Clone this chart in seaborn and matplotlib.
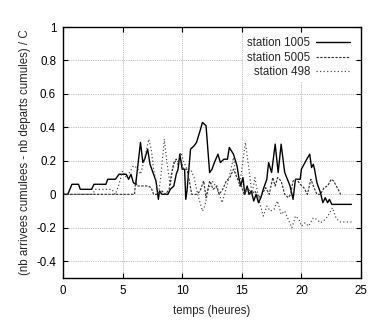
import matplotlib
matplotlib.use("Agg")
import matplotlib.pyplot as plt
import seaborn as sns
import pandas as pd

# ---- data ----
t_1005 = [0, 0.4, 0.75, 1.3, 1.45, 2.4, 2.6, 3.6, 3.75, 4.4,
          4.7, 5.3, 5.5, 5.7, 5.9, 6.1, 6.5, 6.7, 6.85, 7.1,
          7.3, 7.6, 7.8, 8.0, 8.1, 8.3, 8.8, 9.0, 9.3, 9.5,
          9.65, 9.8, 10.0, 10.2, 10.3, 10.4, 10.7, 11.0, 11.2, 11.5,
          11.7, 12.0, 12.3, 12.5, 12.7, 13.0, 13.2, 13.5, 13.8, 13.95,
          14.3, 14.6, 14.75, 14.9, 15.1, 15.25, 15.45, 15.6, 15.8, 16.0,
          16.2, 16.4, 16.6, 16.8, 17.1, 17.25, 17.5, 17.8, 18.05, 18.3,
          18.6, 19.05, 19.3, 19.5, 19.9, 20.0, 20.45, 20.7, 20.85, 21.0,
          21.1, 21.3, 21.6, 21.8, 22.0, 22.2, 22.35, 22.55, 24.2]
v_1005 = [0, 0, 0.06, 0.06, 0.03, 0.03, 0.06, 0.06, 0.09, 0.09,
          0.12, 0.12, 0.09, 0.12, 0.07, 0.06, 0.31, 0.19, 0.21, 0.27,
          0.18, 0.12, 0.08, -0.03, 0.02, 0.0, 0.0, 0.03, 0.05, 0.12,
          0.15, 0.24, 0.15, 0.15, -0.03, 0.02, 0.27, 0.29, 0.31, 0.38,
          0.43, 0.41, 0.13, 0.15, 0.19, 0.24, 0.19, 0.21, 0.21, 0.28,
          0.24, 0.17, 0.10, 0.05, 0.10, 0.0, 0.05, 0.0, 0.02, -0.04,
          0.0, -0.05, -0.02, 0.03, 0.09, 0.19, 0.13, 0.30, 0.13, 0.30,
          0.13, 0.05, -0.03, 0.09, 0.09, 0.15, 0.21, 0.24, 0.16, 0.18,
          0.15, 0.07, 0.01, -0.05, -0.02, -0.05, -0.03, -0.06, -0.06]

t_5005 = [0, 6.0, 6.1, 6.2, 6.5, 6.8, 7.1, 7.4, 7.6, 8.0,
          8.3, 8.6, 8.9, 9.1, 9.3, 9.5, 9.7, 9.9, 10.1, 10.4,
          10.6, 10.8, 11.2, 11.5, 11.8, 12.0, 12.3, 12.6, 12.9, 13.1,
          13.4, 13.7, 14.0, 14.3, 14.6, 14.9, 15.2, 15.5, 15.8, 16.1,
          16.4, 16.7, 17.0, 17.3, 17.6, 17.8, 18.0, 18.3, 18.6, 18.9,
          19.1, 19.3, 19.6, 19.9, 20.2, 20.5, 20.8, 21.0, 21.3, 21.6,
          21.9, 22.2, 22.5, 22.7, 23.0, 23.3]
v_5005 = [0, 0, 0.08, 0.05, 0.05, 0.05, 0.05, 0.04, 0.0, 0.0,
          0.02, 0.0, 0.03, 0.12, 0.19, 0.21, 0.19, 0.20, 0.15, 0.15,
          0.08, 0.0, 0.0, 0.02, 0.08, -0.02, 0.08, 0.03, 0.05, 0.0,
          0.03, 0.08, 0.10, 0.15, 0.10, 0.06, 0.0, 0.04, 0.0, 0.02,
          -0.02, 0.0, 0.04, 0.0, 0.10, 0.05, 0.10, 0.08, 0.0, -0.02,
          0.0, 0.08, 0.09, 0.06, 0.04, 0.0, 0.09, 0.05, 0.0, 0.0,
          0.04, 0.05, 0.09, 0.08, 0.04, 0.0]

t_498 = [0, 2.5, 2.7, 4.1, 4.4, 4.7, 5.0, 5.3, 5.5, 5.9,
         6.2, 6.5, 6.8, 7.2, 7.4, 7.6, 7.8, 8.0, 8.2, 8.5,
         8.7, 9.0, 9.2, 9.4, 9.6, 9.9, 10.1, 10.4, 10.7, 11.0,
         11.3, 11.7, 11.9, 12.2, 12.5, 12.8, 13.1, 13.35, 13.7, 14.0,
         14.3, 14.5, 14.8, 15.0, 15.3, 15.6, 15.85, 16.1, 16.3, 16.5,
         16.8, 17.1, 17.4, 17.7, 18.0, 18.3, 18.6, 18.9, 19.2, 19.5,
         19.8, 20.0, 20.3, 20.6, 21.0, 21.3, 21.6, 22.0, 22.3, 22.6,
         22.9, 23.2, 24.2]
v_498 = [0, 0, 0.03, 0.03, 0.0, 0.06, 0.14, 0.10, 0.12, 0.17,
         0.16, 0.12, 0.20, 0.33, 0.27, 0.15, 0.08, 0.0, 0.10, 0.33,
         0.20, 0.05, 0.15, 0.20, 0.18, 0.25, 0.20, 0.15, 0.15, 0.10,
         0.0, -0.10, -0.07, 0.03, 0.08, 0.05, 0.0, -0.05, 0.04, 0.12,
         0.22, 0.12, 0.05, 0.15, 0.31, 0.15, 0.0, 0.10, 0.02, -0.05,
         -0.13, -0.07, -0.10, -0.09, -0.04, -0.12, -0.10, -0.15, -0.20, -0.13,
         -0.15, -0.19, -0.17, -0.19, -0.14, -0.15, -0.17, -0.15, -0.12, -0.08,
         -0.14, -0.165, -0.165]

labels = ["station 1005", "station 5005", "station 498"]
x_ticks = [0, 5, 10, 15, 20, 25]
y_ticks = [-0.4, -0.2, 0, 0.2, 0.4, 0.6, 0.8, 1]
y_tick_labels = ["-0.4", "-0.2", "0", "0.2", "0.4", "0.6", "0.8", "1"]

sns.set_style("white")
plt.rcParams['font.family'] = ['Liberation Sans', 'DejaVu Sans']
FS = 8.3

fig = plt.figure(figsize=(3.71, 3.23), dpi=100)
ax = fig.add_axes([63 / 371, 1 - 278 / 323, (361 - 63) / 371, (278 - 27) / 323])

series = [(t_1005, v_1005, '-', '#000000', 1.0),
          (t_5005, v_5005, (0, (2.0, 1.2)), '#333333', 0.85),
          (t_498, v_498, (0, (1.0, 2.0)), '#444444', 0.85)]
for (t, v, ls, c, lw), lab in zip(series, labels):
    df = pd.DataFrame({"t": t, "v": v})
    sns.lineplot(data=df, x="t", y="v", ax=ax, color=c, linestyle=ls,
                 linewidth=lw, label=lab, estimator=None, sort=False)

ax.set_xlim(0, 25)
ax.set_ylim(-0.5, 1)
ax.set_xticks(x_ticks)
ax.set_xticklabels([str(x) for x in x_ticks], fontsize=FS)
ax.set_yticks(y_ticks)
ax.set_yticklabels(y_tick_labels, fontsize=FS)
ax.grid(True, color='#a8a8a8', linestyle=(0, (1, 1.2)), linewidth=0.6)
ax.set_axisbelow(True)
ax.tick_params(direction='in', length=3.5, width=0.8, top=True, right=True,
               bottom=True, left=True, pad=5, colors='black')
for sp in ax.spines.values():
    sp.set_visible(True)
    sp.set_color('black')
    sp.set_linewidth(1.0)

ax.set_xlabel("temps (heures)", fontsize=FS, labelpad=6)
ax.set_ylabel("(nb arrivees cumulees - nb departs cumules) / C", fontsize=FS, labelpad=4)

leg = ax.legend(loc='upper right', bbox_to_anchor=(0.995, 0.995), fontsize=FS,
                markerfirst=False, frameon=True, framealpha=1, facecolor='white',
                edgecolor='white', fancybox=False, handlelength=3.0,
                handletextpad=0.5, labelspacing=0.2, borderpad=0.3)
leg.get_frame().set_linewidth(0)

fig.savefig("out.png", dpi=100)
